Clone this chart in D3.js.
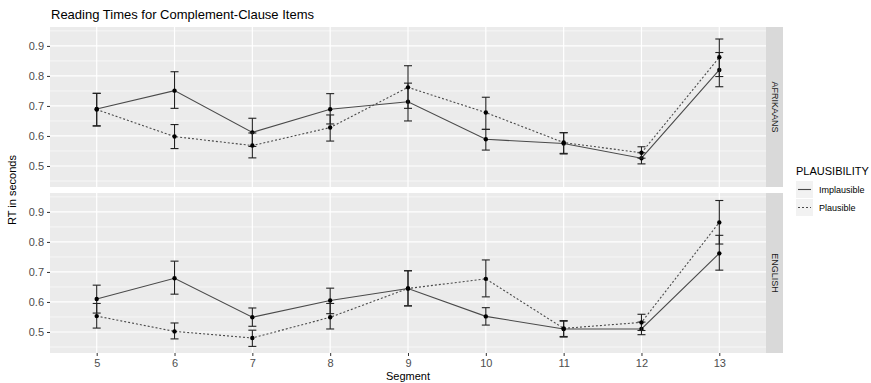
<!DOCTYPE html>
<html>
<head>
<meta charset="utf-8">
<script src="https://cdn.jsdelivr.net/npm/d3@7"></script>
<style>
  html, body { margin: 0; padding: 0; background: #fff; }
  svg { display: block; font-family: "Liberation Sans", Arial, sans-serif; }
</style>
</head>
<body>
<svg id="chart" width="871" height="383"></svg>
<script>
// Data
const segments = [5, 6, 7, 8, 9, 10, 11, 12, 13]
const languages = ["AFRIKAANS", "ENGLISH"]
const yTicks = [0.5, 0.6, 0.7, 0.8, 0.9]

const afrImplMean = [0.690, 0.751, 0.612, 0.689, 0.714, 0.589, 0.575, 0.526, 0.820]
const afrImplLow  = [0.633, 0.692, 0.565, 0.640, 0.650, 0.553, 0.540, 0.507, 0.764]
const afrImplHigh = [0.742, 0.814, 0.659, 0.741, 0.776, 0.622, 0.611, 0.544, 0.878]
const afrPlausMean = [0.688, 0.598, 0.568, 0.628, 0.762, 0.678, 0.578, 0.544, 0.862]
const afrPlausLow  = [0.634, 0.558, 0.527, 0.583, 0.692, 0.622, 0.542, 0.526, 0.798]
const afrPlausHigh = [0.742, 0.638, 0.610, 0.670, 0.834, 0.729, 0.611, 0.564, 0.923]

const engImplMean = [0.610, 0.679, 0.549, 0.605, 0.645, 0.552, 0.510, 0.510, 0.762]
const engImplLow  = [0.563, 0.626, 0.519, 0.561, 0.587, 0.523, 0.483, 0.491, 0.706]
const engImplHigh = [0.656, 0.736, 0.580, 0.646, 0.704, 0.581, 0.536, 0.533, 0.822]
const engPlausMean = [0.553, 0.502, 0.480, 0.549, 0.645, 0.677, 0.512, 0.532, 0.865]
const engPlausLow  = [0.513, 0.477, 0.452, 0.510, 0.587, 0.617, 0.485, 0.505, 0.793]
const engPlausHigh = [0.595, 0.530, 0.506, 0.595, 0.704, 0.740, 0.538, 0.559, 0.938]

const series = {
  AFRIKAANS: [
    { name: "Implausible", mean: afrImplMean, low: afrImplLow, high: afrImplHigh },
    { name: "Plausible", mean: afrPlausMean, low: afrPlausLow, high: afrPlausHigh },
  ],
  ENGLISH: [
    { name: "Implausible", mean: engImplMean, low: engImplLow, high: engImplHigh },
    { name: "Plausible", mean: engPlausMean, low: engPlausLow, high: engPlausHigh },
  ],
}

// Layout
const panel = { left: 50, right: 766, strip: 17 }
const panelTops = [27, 193]
const panelHeight = 160
const dash = { Implausible: null, Plausible: "2,2" }

const svg = d3.select("#chart")

// X scale (discrete, ggplot expansion 0.6)
const x = d3.scaleLinear()
  .domain([segments[0] - 0.6, segments[segments.length - 1] + 0.6])
  .range([panel.left, panel.right])

// Title
svg.append("text")
  .attr("x", 51).attr("y", 19)
  .attr("font-size", 13).attr("fill", "#000")
  .text("Reading Times for Complement-Clause Items")

languages.forEach((lang, li) => {
  const top = panelTops[li]
  const y = d3.scaleLinear().domain([0.43, 0.963]).range([top + panelHeight, top])
  const g = svg.append("g")

  // Panel background
  g.append("rect")
    .attr("x", panel.left).attr("y", top)
    .attr("width", panel.right - panel.left).attr("height", panelHeight)
    .attr("fill", "#ebebeb")

  // Minor grid
  g.selectAll(".minor").data(yTicks.map(t => t - 0.05).concat([0.95]))
    .join("line")
    .attr("x1", panel.left).attr("x2", panel.right)
    .attr("y1", d => y(d)).attr("y2", d => y(d))
    .attr("stroke", "#fff").attr("stroke-width", 0.6)

  // Major grid
  g.selectAll(".majory").data(yTicks).join("line")
    .attr("x1", panel.left).attr("x2", panel.right)
    .attr("y1", d => y(d)).attr("y2", d => y(d))
    .attr("stroke", "#fff").attr("stroke-width", 1.2)
  g.selectAll(".majorx").data(segments).join("line")
    .attr("x1", d => x(d)).attr("x2", d => x(d))
    .attr("y1", top).attr("y2", top + panelHeight)
    .attr("stroke", "#fff").attr("stroke-width", 1.2)

  // Y axis
  svg.append("g")
    .attr("transform", `translate(${panel.left},0)`)
    .call(d3.axisLeft(y).tickValues(yTicks).tickSize(3).tickPadding(3).tickFormat(d3.format(".1f")))
    .call(a => a.select(".domain").remove())
    .call(a => a.selectAll(".tick line").attr("stroke", "#333"))
    .selectAll("text")
    .attr("font-size", 11).attr("fill", "#4d4d4d")
    .attr("font-family", "Liberation Sans, Arial, sans-serif")

  // Strip
  g.append("rect")
    .attr("x", panel.right).attr("y", top)
    .attr("width", panel.strip).attr("height", panelHeight)
    .attr("fill", "#d9d9d9")
  g.append("text")
    .attr("transform", `translate(${panel.right + panel.strip / 2},${top + panelHeight / 2}) rotate(90)`)
    .attr("text-anchor", "middle").attr("dominant-baseline", "central")
    .attr("font-size", 9).attr("fill", "#1a1a1a")
    .text(lang)

  // Series
  for (const s of series[lang]) {
    const pts = segments.map((seg, i) => ({ seg, m: s.mean[i], lo: s.low[i], hi: s.high[i] }))
    const line = d3.line().x(d => x(d.seg)).y(d => y(d.m))
    g.append("path")
      .datum(pts)
      .attr("d", line)
      .attr("fill", "none")
      .attr("stroke", "#4a4a4a")
      .attr("stroke-width", 1.1)
      .attr("stroke-dasharray", dash[s.name])

    // Error bars
    const eb = g.append("g").attr("stroke", "#222").attr("stroke-width", 1.1)
    eb.selectAll(".v").data(pts).join("line")
      .attr("x1", d => x(d.seg)).attr("x2", d => x(d.seg))
      .attr("y1", d => y(d.lo)).attr("y2", d => y(d.hi))
    eb.selectAll(".lo").data(pts).join("line")
      .attr("x1", d => x(d.seg) - 4).attr("x2", d => x(d.seg) + 4)
      .attr("y1", d => y(d.lo)).attr("y2", d => y(d.lo))
    eb.selectAll(".hi").data(pts).join("line")
      .attr("x1", d => x(d.seg) - 4).attr("x2", d => x(d.seg) + 4)
      .attr("y1", d => y(d.hi)).attr("y2", d => y(d.hi))

    g.selectAll(null).data(pts).join("circle")
      .attr("cx", d => x(d.seg)).attr("cy", d => y(d.m))
      .attr("r", 2.2).attr("fill", "#000")
  }
})

// X axis (under bottom panel)
const bottom = panelTops[1] + panelHeight
svg.append("g")
  .attr("transform", `translate(0,${bottom})`)
  .call(d3.axisBottom(x).tickValues(segments).tickSize(3).tickPadding(3).tickFormat(d3.format("d")))
  .call(a => a.select(".domain").remove())
  .call(a => a.selectAll(".tick line").attr("stroke", "#333"))
  .selectAll("text")
  .attr("font-size", 11).attr("fill", "#4d4d4d")
  .attr("font-family", "Liberation Sans, Arial, sans-serif")

// Axis titles
svg.append("text")
  .attr("x", (panel.left + panel.right) / 2).attr("y", 380)
  .attr("text-anchor", "middle").attr("font-size", 11).attr("fill", "#000")
  .text("Segment")
svg.append("text")
  .attr("transform", `translate(16,${(panelTops[0] + bottom) / 2}) rotate(-90)`)
  .attr("text-anchor", "middle").attr("font-size", 11).attr("fill", "#000")
  .text("RT in seconds")

// Legend
const legend = svg.append("g").attr("transform", "translate(796,0)")
legend.append("text")
  .attr("x", 0).attr("y", 175)
  .attr("font-size", 11).attr("fill", "#000")
  .text("PLAUSIBILITY")
const keys = ["Implausible", "Plausible"]
keys.forEach((k, i) => {
  const ky = 181 + i * 18
  legend.append("rect")
    .attr("x", 0).attr("y", ky).attr("width", 17).attr("height", 17)
    .attr("fill", "#f2f2f2")
  legend.append("line")
    .attr("x1", 2).attr("x2", 15).attr("y1", ky + 8.5).attr("y2", ky + 8.5)
    .attr("stroke", "#4a4a4a").attr("stroke-width", 1.1)
    .attr("stroke-dasharray", dash[k])
  legend.append("text")
    .attr("x", 23).attr("y", ky + 8.5)
    .attr("dominant-baseline", "central")
    .attr("font-size", 9).attr("fill", "#000")
    .text(k)
})
</script>
</body>
</html>
